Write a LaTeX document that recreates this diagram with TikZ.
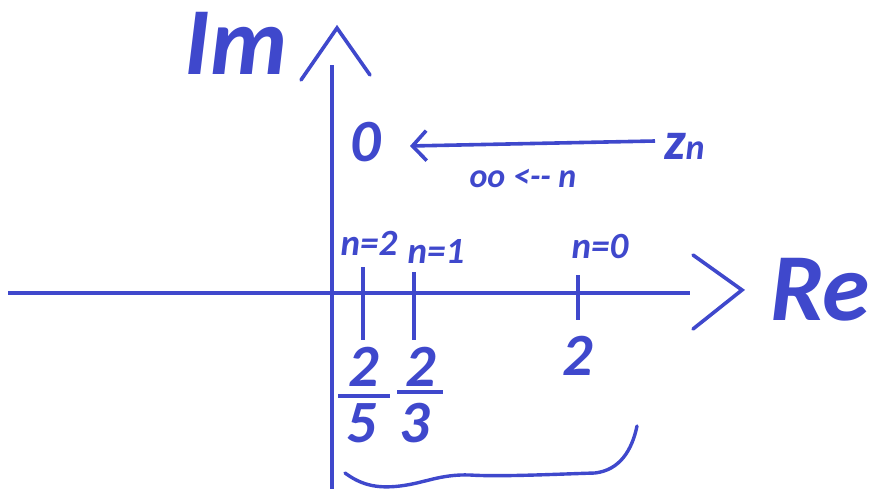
\documentclass[tikz,border=0pt]{standalone}
\usepackage{fontspec}
\setmainfont{Carlito}
\usepackage{xcolor}
\usepackage{tikz}
\usetikzlibrary{arrows.meta, positioning}
\definecolor{pen}{HTML}{3F48CC}
\newcommand{\fs}[1]{\fontsize{#1}{#1}\selectfont}
\tikzset{
  axis/.style={draw=pen, line width=3.6pt},
  chev/.style={draw=pen, line width=3.6pt, line cap=round, line join=miter},
  tick/.style={draw=pen, line width=3.4pt},
  big/.style={text=pen, font=\bfseries\itshape\fs{96}, inner sep=0pt, anchor=base},
  num/.style={text=pen, font=\bfseries\itshape\fs{60}, inner sep=0pt, anchor=base},
  idx/.style={text=pen, font=\bfseries\itshape\fs{37}, inner sep=0pt, anchor=base},
  arr/.style={-{Straight Barb[length=14pt,width=30pt,line width=3.6pt]}, draw=pen, line width=3.6pt},
}

\begin{document}
\begin{tikzpicture}[x=1pt, y=-1pt, node distance=5mm]
\useasboundingbox (0,0) rectangle (877,489);
% axes
\coordinate (rl) at (8,293);
\coordinate (rr) at (690,293);
\coordinate (ib) at (332,489);
\coordinate (it) at (332,65);
\draw[axis] (rl) -- (rr);
\draw[axis] (ib) -- (it);
\draw[chev] (693,255) -- (742,290) -- (693,329);
\draw[chev] (301,80) -- (337,28) -- (370,75);
\node[big] (im) at (236,75) {Im};
\node[big] (re) at (820,320) {Re};
% limit arrow
\node[num] (zero) at (366,162) {0};
\node[text=pen, font=\bfseries\itshape\fs{54}, inner sep=0pt, anchor=base west] (zn) at (664,160) {z{\fs{36}n}};
\coordinate (za) at (655,141);
\coordinate (zb) at (410,146);
\draw[arr] (za) -- (zb);
\node[idx, font=\bfseries\itshape\fs{34}] (lim) at (523,187) {oo <-{}- n};
% ticks
\draw[tick] (363,267) -- (363,340);
\draw[tick] (414,272) -- (414,340);
\draw[tick] (578,275) -- (578,320);
\node[idx] (n2) at (369,255) {n=2};
\node[idx] (n1) at (436,263) {n=1};
\node[idx] (n0) at (600,258) {n=0};
% values
\node[num] (a2) at (364,386) {2};
\node[num] (a5) at (362,442) {5};
\node[num] (b2) at (421,386) {2};
\node[num] (b3) at (415,442) {3};
\node[num] (c2) at (578,375) {2};
\draw[tick] (338,396) -- (390,396);
\draw[tick] (397,392) -- (443,392);
% brace
\draw[pen, line width=3.4pt, line cap=round]
  (345,473) .. controls (360,484) and (375,489) .. (400,486)
  .. controls (425,483) and (440,474) .. (470,475)
  .. controls (500,477) and (560,474) .. (595,473)
  .. controls (620,470) and (632,450) .. (637,426);
\end{tikzpicture}
\end{document}
